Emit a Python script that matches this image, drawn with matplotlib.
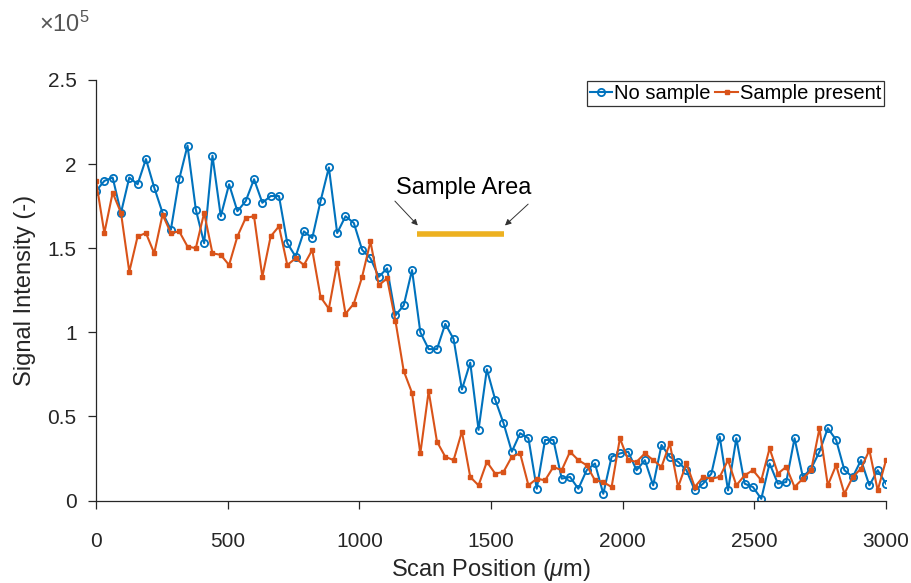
#!/usr/bin/env python3
# -*- coding: utf-8 -*-
"""
Signal intensity along a scan line, with and without the sample in place.
Saves out.png (912x583).
"""
import numpy as np
import matplotlib
matplotlib.use("Agg")
import matplotlib.pyplot as plt
from matplotlib.ticker import FuncFormatter

# scan positions (um), 96 equally spaced points over 0..3000
scan_pos = np.linspace(0, 3000, 96)

# signal intensity in units of 1e5
no_sample = [
    1.84, 1.90, 1.92, 1.71, 1.92, 1.88, 2.03, 1.86, 1.71, 1.61,
    1.91, 2.11, 1.73, 1.53, 2.05, 1.69, 1.88, 1.72, 1.78, 1.91,
    1.77, 1.81, 1.81, 1.53, 1.45, 1.60, 1.56, 1.78, 1.98, 1.59,
    1.69, 1.65, 1.49, 1.44, 1.33, 1.38, 1.10, 1.16, 1.37, 1.00,
    0.90, 0.90, 1.05, 0.96, 0.66, 0.82, 0.42, 0.78, 0.60, 0.46,
    0.29, 0.40, 0.37, 0.07, 0.36, 0.36, 0.13, 0.14, 0.07, 0.18,
    0.22, 0.04, 0.26, 0.28, 0.29, 0.18, 0.24, 0.09, 0.33, 0.26,
    0.23, 0.18, 0.06, 0.10, 0.16, 0.38, 0.06, 0.37, 0.10, 0.08,
    0.01, 0.22, 0.10, 0.11, 0.37, 0.14, 0.19, 0.29, 0.43, 0.36,
    0.18, 0.14, 0.24, 0.09, 0.18, 0.10,
]
sample_present = [
    1.90, 1.59, 1.83, 1.71, 1.36, 1.57, 1.59, 1.47, 1.70, 1.59,
    1.60, 1.51, 1.50, 1.71, 1.47, 1.46, 1.40, 1.57, 1.68, 1.69,
    1.33, 1.57, 1.63, 1.40, 1.44, 1.40, 1.49, 1.21, 1.14, 1.41,
    1.11, 1.17, 1.33, 1.54, 1.28, 1.32, 1.07, 0.77, 0.64, 0.28,
    0.65, 0.35, 0.26, 0.24, 0.41, 0.14, 0.09, 0.23, 0.16, 0.17,
    0.26, 0.28, 0.09, 0.13, 0.12, 0.20, 0.18, 0.29, 0.24, 0.21,
    0.12, 0.11, 0.08, 0.37, 0.24, 0.23, 0.28, 0.24, 0.20, 0.34,
    0.08, 0.22, 0.08, 0.14, 0.13, 0.14, 0.24, 0.09, 0.15, 0.18,
    0.12, 0.31, 0.16, 0.20, 0.08, 0.13, 0.18, 0.43, 0.09, 0.21,
    0.04, 0.14, 0.19, 0.30, 0.06, 0.24,
]

# sample area marker (um) and its height (1e5 units)
sample_area = [1220, 1550]
sample_level = 1.585

x_ticks = [0, 500, 1000, 1500, 2000, 2500, 3000]
y_ticks = [0, 0.5, 1.0, 1.5, 2.0, 2.5]

BLUE = "#0072BD"
ORANGE = "#D95319"
YELLOW = "#EDB120"
AXCOL = "#262626"

plt.rcParams["font.family"] = ["Liberation Sans", "DejaVu Sans"]
plt.rcParams["mathtext.fontset"] = "custom"
plt.rcParams["mathtext.it"] = "Liberation Sans:italic"
plt.rcParams["mathtext.rm"] = "Liberation Sans"

fig = plt.figure(figsize=(9.12, 5.83), dpi=100)
ax = fig.add_axes([0.1053, 0.1415, 0.8662, 0.7213])

scale = 1e5
ax.plot(scan_pos, np.array(no_sample) * scale, color=BLUE, lw=1.5,
        marker="o", ms=5.2, mfc="none", mew=1.3, label="No sample")
ax.plot(scan_pos, np.array(sample_present) * scale, color=ORANGE, lw=1.5,
        marker="s", ms=2.2, label="Sample present")

ax.plot(sample_area, [sample_level * scale] * 2, color=YELLOW, lw=4,
        solid_capstyle="butt")
ax.text(sum(sample_area) / 2 + 12, 1.857 * scale, "Sample Area",
        ha="center", va="center", fontsize=17, color="black")
arrow = dict(arrowstyle="-|>", color="#333333", lw=0.7,
             mutation_scale=9, shrinkA=0, shrinkB=0)
ax.annotate("", xy=(1222, 1.635 * scale), xytext=(1135, 1.78 * scale),
            arrowprops=arrow)
ax.annotate("", xy=(1553, 1.635 * scale), xytext=(1641, 1.762 * scale),
            arrowprops=arrow)

ax.set_xlim(0, 3000)
ax.set_ylim(0, 2.5 * scale)
ax.set_xticks(x_ticks)
ax.set_yticks([v * scale for v in y_ticks])
ax.yaxis.set_major_formatter(FuncFormatter(lambda v, p: f"{v / scale:g}"))

for side in ["top", "right"]:
    ax.spines[side].set_visible(False)
for side in ["left", "bottom"]:
    ax.spines[side].set_color(AXCOL)
    ax.spines[side].set_linewidth(0.9)
ax.tick_params(axis="both", direction="out", length=6, width=0.9,
               colors=AXCOL, labelsize=15)
ax.tick_params(axis="x", pad=17)
ax.tick_params(axis="y", pad=8)

ax.set_xlabel(r"Scan Position ($\mu$m)", fontsize=17, color=AXCOL, labelpad=4)
ax.set_ylabel("Signal Intensity (-)", fontsize=17, color=AXCOL, labelpad=8)

fig.text(0.043, 0.958, r"$\times10^{5}$", fontsize=17, color="#555555",
         ha="left", va="center")

leg = ax.legend(loc="upper right", ncol=2, bbox_to_anchor=(0.9975, 0.997),
                fontsize=14.5, frameon=True, fancybox=False, borderpad=0.15,
                handlelength=1.1, handletextpad=0.1, columnspacing=0.25,
                borderaxespad=0.0)
leg.get_frame().set_edgecolor("black")
leg.get_frame().set_linewidth(0.9)

plt.savefig("out.png", dpi=100)
plt.close()
